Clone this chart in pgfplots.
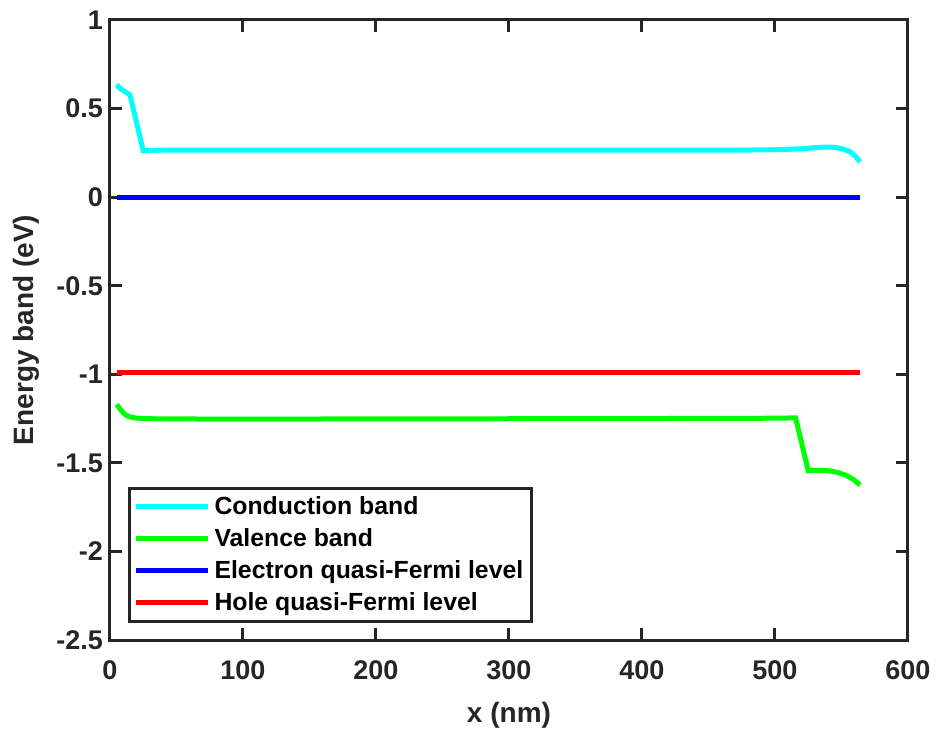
\documentclass[border=0pt]{standalone}
\usepackage{pgfplots}
\pgfplotsset{compat=1.18}
\usepackage{fontspec}
\setmainfont{Liberation Sans}
\begin{document}
\begin{tikzpicture}
\begin{axis}[
  name=ax,
  scale only axis,
  width=399pt, height=310pt,
  xmin=0, xmax=600, ymin=-2.5, ymax=1,
  xtick={0,100,...,600},
  ytick={-2.5,-2,-1.5,-1,-0.5,0,0.5,1},
  yticklabels={-2.5,-2,-1.5,-1,-0.5,0,0.5,1},
  tick align=inside,
  major tick length=6pt,
  axis line style={line width=1.5pt, black!85},
  every tick/.style={line width=1.5pt, black!85},
  tick label style={font=\fontsize{13.5}{16}\selectfont\bfseries, black!85},
  xticklabel style={yshift=-7pt},
  /pgf/number format/assume math mode=true,
  xlabel={\textbf{x (nm)}},
  ylabel={\textbf{Energy band (eV)}},
  label style={font=\fontsize{14}{16}\selectfont, black!85},
  xlabel style={yshift=-4pt},
  ylabel style={yshift=1.5pt},
  legend cell align=left,
  legend style={at={(0.0226,0.028)}, anchor=south west, draw=black!85, line width=1.5pt,
    font=\fontsize{12.4}{14.5}\selectfont\bfseries, row sep=4.5pt, inner xsep=2pt, inner ysep=3.5pt,
    nodes={inner xsep=2pt, inner ysep=0.5pt}},
  legend image code/.code={\draw[#1, line width=2.5pt] (0pt,0pt) -- (36pt,0pt);},
]
\addplot[color={rgb,1:red,0;green,1;blue,1}, line width=2.5pt] coordinates {
(5,0.635) (8,0.612) (11,0.597) (15,0.578) (25,0.262) (40,0.266) (100,0.265) (200,0.265) (300,0.265) (400,0.265) (480,0.266) (505,0.268) (520,0.273) (530,0.279) (538,0.283) (545,0.281) (551,0.272) (556,0.258) (560,0.235) (564,0.2)};
\addlegendentry{Conduction band}
\addplot[color={rgb,1:red,0;green,1;blue,0}, line width=2.5pt] coordinates {
(5,-1.17) (8,-1.2) (11,-1.225) (14,-1.238) (18,-1.246) (25,-1.25) (40,-1.252) (100,-1.253) (200,-1.252) (300,-1.251) (400,-1.25) (500,-1.248) (515.5,-1.246) (525,-1.545) (533,-1.542) (541,-1.545) (548,-1.556) (554,-1.572) (559,-1.594) (564,-1.625)};
\addlegendentry{Valence band}
\addplot[color={rgb,1:red,0;green,0;blue,1}, line width=2.5pt] coordinates {(5,0) (564,0)};
\addlegendentry{Electron quasi-Fermi level}
\addplot[color={rgb,1:red,1;green,0;blue,0}, line width=2.5pt] coordinates {(5,-0.99) (564,-0.99)};
\addlegendentry{Hole quasi-Fermi level}
\end{axis}
\pgfresetboundingbox
\path[use as bounding box] ([shift={(-55pt,-47pt)}]ax.south west) rectangle ([shift={(14.5pt,10pt)}]ax.north east);
\end{tikzpicture}
\end{document}
